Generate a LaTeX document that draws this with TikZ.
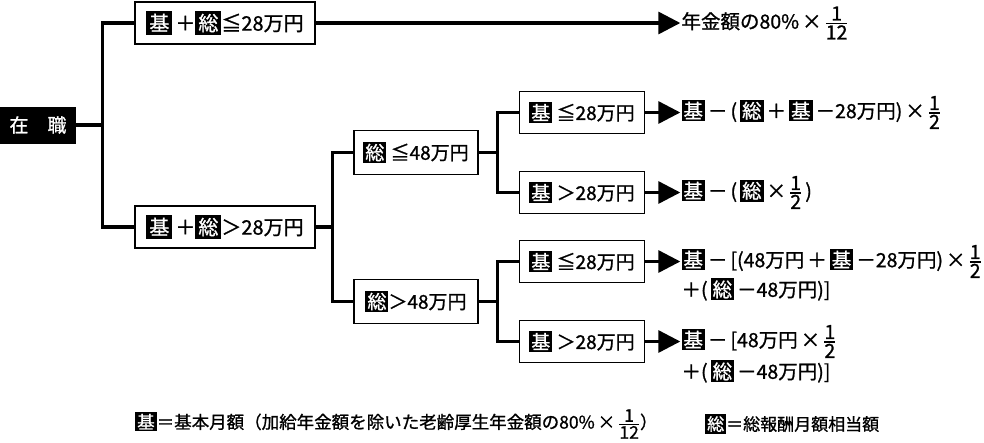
\documentclass[tikz,border=0pt]{standalone}
\usepackage{fontspec}
\setmainfont{Noto Sans CJK JP}[FakeBold=1]
\usetikzlibrary{trees,positioning,arrows.meta}
\newcommand\blk[2][2pt]{{\setlength\fboxsep{#1}\colorbox{black}{\textcolor{white}{#2}}}}
\newcommand\frc[2]{${\mbox{#1}\above 1.2pt\mbox{#2}}$}
\newcommand\g{\hspace{3pt}}
\begin{document}
\begin{tikzpicture}[x=1pt,y=1pt,
			every node/.style={font=\fontsize{19}{22}\selectfont},
			cond/.style={draw,line width=1.6pt,inner sep=0pt},
			conn/.style={line width=3.2pt},
			formula/.style={anchor=west,inner sep=1pt,font=\fontsize{19.5}{22}\selectfont},
			legend/.style={anchor=west,inner sep=0pt,font=\fontsize{17.5}{20}\selectfont},
			edge from parent/.style={draw,conn},
			grow'=right,
			level 1/.style={level distance=187pt,sibling distance=204pt,
				nodes={cond,minimum width=180pt,minimum height=42pt,font=\fontsize{20}{23}\selectfont},
				edge from parent path={(\tikzparentnode.east) -- ++(26pt,0) |- (\tikzchildnode.west)}},
			level 2/.style={level distance=191pt,sibling distance=149pt,
				nodes={minimum width=124pt,minimum height=44pt,font=\fontsize{19}{22}\selectfont},
				edge from parent path={(\tikzparentnode.east) -- ++(17pt,0) |- (\tikzchildnode.west)}},
			level 3/.style={level distance=166pt,sibling distance=80pt,
				nodes={minimum width=125pt,minimum height=42pt},
				edge from parent path={(\tikzparentnode.east) -- ++(19pt,0) |- (\tikzchildnode.west)}},]
\useasboundingbox (0,0) rectangle (984,-442);
\node[fill=black,text=white,minimum width=76pt,minimum height=37pt] (zai) at (38,-125) {在　職}
child { node (b1) {\blk[3pt]{基}\g＋\blk[3pt]{総}≦28万円} }
child { node (b2) {\blk[3pt]{基}\g＋\blk[3pt]{総}＞28万円}
	child { node (s1) {\blk{総} ≦48万円}
		child { node (k1) {\blk{基} ≦28万円} }
		child { node (k2) {\blk{基} ＞28万円} }
		}
	child { node (s2) {\blk{総}＞48万円}
		child { node (k3) {\blk{基} ≦28万円} }
		child { node (k4) {\blk{基} ＞28万円} }
		}
	};
% results
\node[formula,right=35pt of k1] (f1) {\blk{基}\g－\g(\g\blk{総}\g＋\g\blk{基}\g－28万円)\g×\g\frc{1}{2}};
\node[formula,right=35pt of k2] (f2) {\blk{基}\g－\g(\g\blk{総}\g×\g\frc{1}{2}\g)};
\node[formula,right=35pt of k3] (f3) {\blk{基}\g－\g[(48万円\g＋\g\blk{基}\g－28万円)\g×\g\frc{1}{2}};
\node[formula] (g3) at ([yshift=-28pt]f3.west) {＋(\g\blk{総}\g－48万円)]};
\node[formula,right=35pt of k4] (f4) {\blk{基}\g－\g[48万円\g×\g\frc{1}{2}};
\node[formula] (g4) at ([yshift=-30pt]f4.west) {＋(\g\blk{総}\g－48万円)]};
\node[formula] (f0) at (b1.east -| f1.west) {年金額の80\%\g×\g\frc{1}{12}};
\foreach \a/\b in {b1/f0,k1/f1,k2/f2,k3/f3,k4/f4}
	\draw[conn,-{Triangle[length=22pt,width=22pt]}] (\a) -- (\b);
% legend
\node[legend] (lk) at (135,-424) {\blk{基}＝基本月額（加給年金額を除いた老齢厚生年金額の80\%\g×\g\frc{1}{12}）};
\node[legend,font=\fontsize{17}{20}\selectfont] (ls) at (705,-424) {\blk{総}＝総報酬月額相当額};
\end{tikzpicture}
\end{document}
